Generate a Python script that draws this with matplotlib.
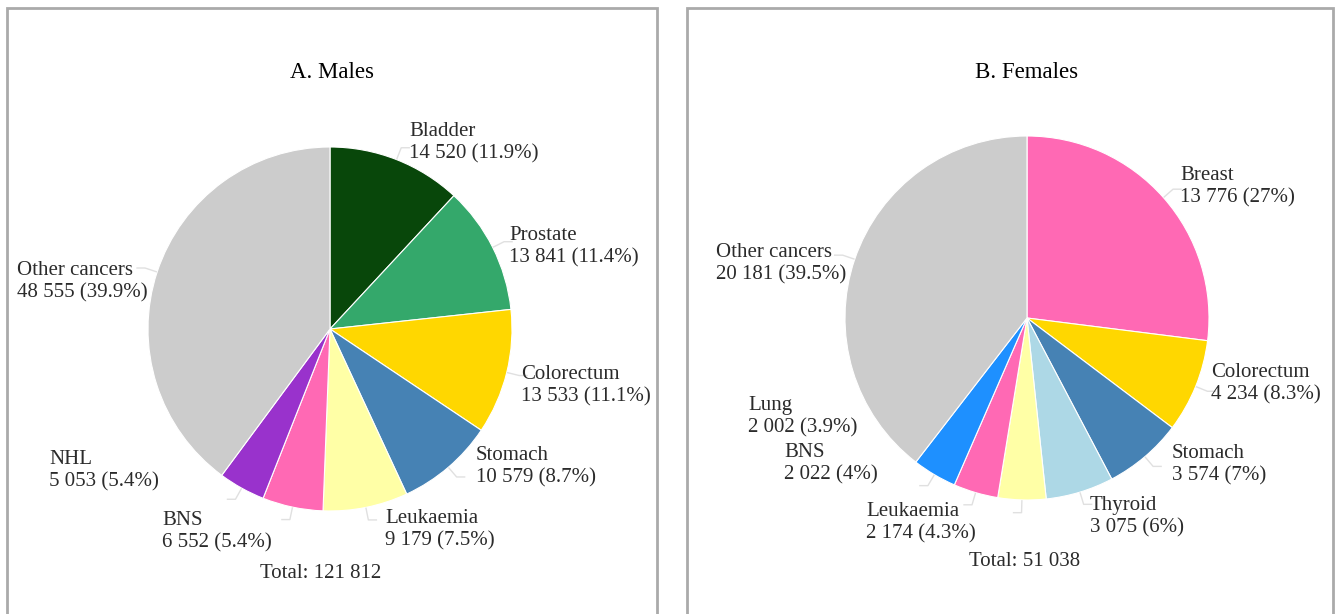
import numpy as np
import matplotlib.pyplot as plt
from matplotlib.patches import Rectangle

plt.rcParams['font.family'] = ['Liberation Serif', 'DejaVu Serif']

# Males
m_sites = ['Bladder', 'Prostate', 'Colorectum', 'Stomach', 'Leukaemia', 'BNS', 'NHL', 'Other cancers']
m_cases = [14520, 13841, 13533, 10579, 9179, 6552, 5053, 48555]
m_labels = ['14 520 (11.9%)', '13 841 (11.4%)', '13 533 (11.1%)', '10 579 (8.7%)',
            '9 179 (7.5%)', '6 552 (5.4%)', '5 053 (5.4%)', '48 555 (39.9%)']
m_colors = ['#08470a', '#34a86b', '#ffd700', '#4682b4', '#ffffa6', '#ff69b4', '#9932cc', '#cccccc']

# Females
f_sites = ['Breast', 'Colorectum', 'Stomach', 'Thyroid', 'Leukaemia', 'BNS', 'Lung', 'Other cancers']
f_cases = [13776, 4234, 3574, 3075, 2174, 2022, 2002, 20181]
f_labels = ['13 776 (27%)', '4 234 (8.3%)', '3 574 (7%)', '3 075 (6%)',
            '2 174 (4.3%)', '2 022 (4%)', '2 002 (3.9%)', '20 181 (39.5%)']
f_colors = ['#ff69b4', '#ffd700', '#4682b4', '#add8e6', '#ffffa6', '#ff69b4', '#1e90ff', '#cccccc']

W, H = 1341, 614
fig = plt.figure(figsize=(W / 100, H / 100), dpi=100)
ax = fig.add_axes([0, 0, 1, 1])


def draw_panel(ax, cases, colors, sites, labels, center, radius, label_pos, title, title_x, total_txt, total_pos):
    ax.pie(cases, colors=colors, startangle=90, counterclock=False, center=center,
           radius=radius, frame=True, wedgeprops=dict(edgecolor='white', linewidth=0.8))
    total = sum(cases)
    cum = 0
    for v in cases:
        th = np.deg2rad(90 - 360 * (cum + v / 2) / total)
        cum += v
        x0 = center[0] + radius * 1.005 * np.cos(th)
        y0 = center[1] + radius * 1.005 * np.sin(th)
        x1 = center[0] + radius * 1.07 * np.cos(th)
        y1 = center[1] + radius * 1.07 * np.sin(th)
        d = 8 if np.cos(th) >= 0 else -8
        ax.plot([x0, x1, x1 + d], [y0, y1, y1], color='#e0e0e0', lw=1, zorder=1)
    for s, lab, (lx, ly) in zip(sites, labels, label_pos):
        ax.text(lx, H - ly, s + '\n' + lab, ha='left', va='center', fontsize=15,
                color='#2b2b2b', linespacing=1.2)
    ax.text(title_x, H - 73, title, ha='center', va='center', fontsize=16.5, color='black')
    ax.text(total_pos[0], H - total_pos[1], total_txt, ha='center', va='center',
            fontsize=15, color='#2b2b2b')


m_pos = [(409, 143), (509, 247), (521, 386), (476, 467), (385, 530), (162, 532), (49, 471), (17, 282)]
f_pos = [(1180, 187), (1211, 384), (1172, 465), (1090, 517), (866, 523), (784, 464), (748, 417), (716, 264)]

draw_panel(ax, m_cases, m_colors, m_sites, m_labels, (330, H - 329), 182, m_pos,
           'A. Males', 332, 'Total: 121 812', (321, 573))
draw_panel(ax, f_cases, f_colors, f_sites, f_labels, (1027, H - 318), 182, f_pos,
           'B. Females', 1027, 'Total: 51 038', (1025, 562))

ax.add_patch(Rectangle((7, -20), 650, H - 8 + 20, fill=False, edgecolor='#aaaaaa', lw=2))
ax.add_patch(Rectangle((687, -20), 646, H - 8 + 20, fill=False, edgecolor='#aaaaaa', lw=2))

ax.set_xlim(0, W)
ax.set_ylim(0, H)
ax.set_aspect('equal')
ax.axis('off')

fig.savefig('out.png', dpi=100)
